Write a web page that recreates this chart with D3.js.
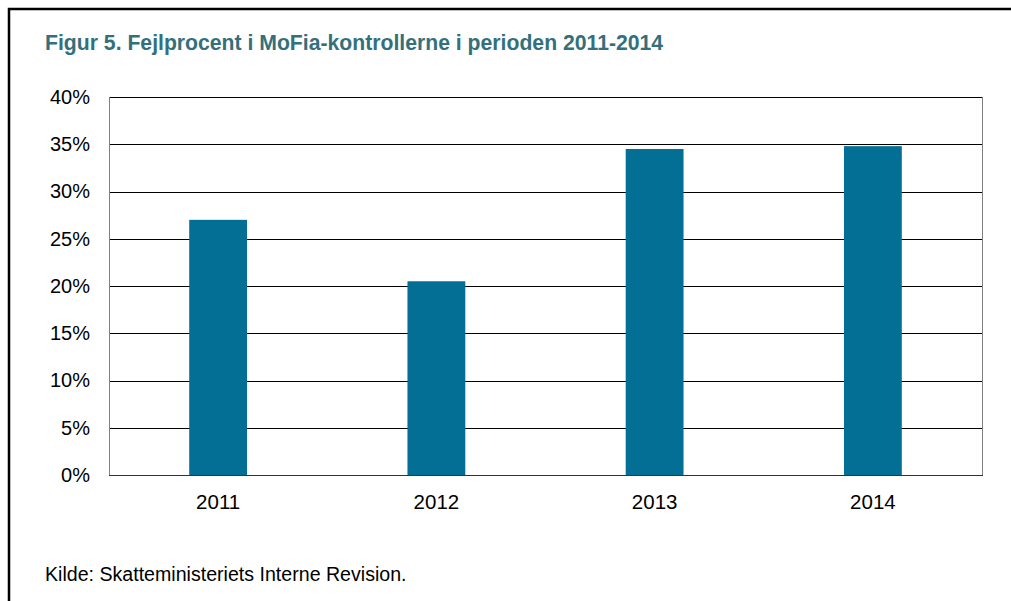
<!DOCTYPE html>
<html>
<head>
<meta charset="utf-8">
<script src="https://cdn.jsdelivr.net/npm/d3@7"></script>
<style>
  body { margin: 0; background: #fff; }
  svg text { font-family: Arial, "Liberation Sans", sans-serif; }
</style>
</head>
<body>
<svg id="chart" width="1011" height="601"></svg>
<script>
// data
const years = ["2011", "2012", "2013", "2014"];
const errorRates = [0.27, 0.205, 0.345, 0.348];
const yTicks = [0, 0.05, 0.10, 0.15, 0.20, 0.25, 0.30, 0.35, 0.40];

const svg = d3.select("#chart");
const margin = { top: 97, right: 29, bottom: 126, left: 109 },
    width = 1011 - margin.left - margin.right,
    height = 601 - margin.top - margin.bottom;

// outer frame (top and left edges only)
svg.append("path")
    .attr("d", "M9,601 V9 H1011")
    .attr("fill", "none")
    .attr("stroke", "#000")
    .attr("stroke-width", 2.5);

svg.append("text")
    .attr("x", 45)
    .attr("y", 50)
    .attr("fill", "#33707c")
    .style("font-size", "21.2px")
    .style("font-weight", "bold")
    .text("Figur 5. Fejlprocent i MoFia-kontrollerne i perioden 2011-2014");

const g = svg.append("g")
    .attr("transform", `translate(${margin.left},${margin.top})`);

const x = d3.scaleBand()
    .domain(years)
    .range([0, width])
    .paddingInner(0.735)
    .paddingOuter(0.3675);

const y = d3.scaleLinear()
    .domain([0, 0.4])
    .range([height, 0]);

// gridlines
g.selectAll(".grid")
    .data(yTicks.slice(1))
    .enter()
    .append("line")
    .attr("class", "grid")
    .attr("x1", 0)
    .attr("x2", width)
    .attr("y1", d => Math.round(y(d)) + 0.5)
    .attr("y2", d => Math.round(y(d)) + 0.5)
    .attr("stroke", "#000")
    .attr("stroke-width", 1);

// bars
g.selectAll(".bar")
    .data(years.map((d, i) => ({ year: d, value: errorRates[i] })))
    .enter()
    .append("rect")
    .attr("class", "bar")
    .attr("x", d => x(d.year))
    .attr("y", d => y(d.value))
    .attr("width", x.bandwidth())
    .attr("height", d => height - y(d.value))
    .attr("fill", "#036f94");

// plot frame: grey left/right, dark bottom
g.append("line")
    .attr("x1", 0.5).attr("x2", 0.5)
    .attr("y1", 0).attr("y2", height)
    .attr("stroke", "#808080");
g.append("line")
    .attr("x1", width + 0.5).attr("x2", width + 0.5)
    .attr("y1", 0).attr("y2", height)
    .attr("stroke", "#808080");
g.append("line")
    .attr("x1", 0).attr("x2", width + 1)
    .attr("y1", height + 0.5).attr("y2", height + 0.5)
    .attr("stroke", "#333");

// y axis labels
const yAxis = g.append("g")
    .call(d3.axisLeft(y).tickValues(yTicks).tickFormat(d3.format(".0%")).tickSize(0).tickPadding(19));
yAxis.select(".domain").remove();
yAxis.selectAll("text")
    .attr("fill", "#000")
    .style("font-size", "20px")
    .style("font-family", "Arial, 'Liberation Sans', sans-serif");

// x axis labels
const xAxis = g.append("g")
    .attr("transform", `translate(0,${height})`)
    .call(d3.axisBottom(x).tickSize(0).tickPadding(19));
xAxis.select(".domain").remove();
xAxis.selectAll("text")
    .attr("fill", "#000")
    .style("font-size", "20.5px")
    .style("font-family", "Arial, 'Liberation Sans', sans-serif");

svg.append("text")
    .attr("x", 45)
    .attr("y", 581)
    .attr("fill", "#000")
    .style("font-size", "19.6px")
    .text("Kilde: Skatteministeriets Interne Revision.");
</script>
</body>
</html>
